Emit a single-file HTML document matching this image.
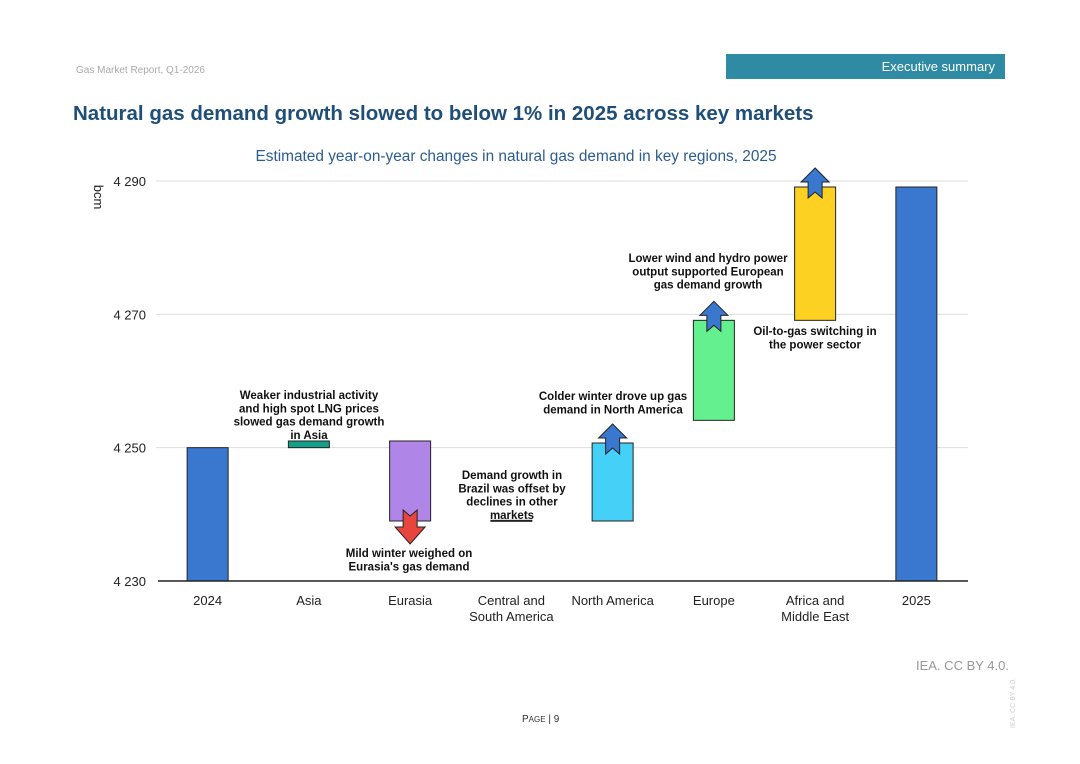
<!DOCTYPE html>
<html><head><meta charset="utf-8">
<style>
body{margin:0;width:1080px;height:764px;background:#fff;font-family:"Liberation Sans",sans-serif;position:relative;overflow:hidden}
.abs{position:absolute}
</style></head>
<body>
<div class="abs" style="left:76px;top:65px;font-size:10px;color:#aaa">Gas Market Report, Q1-2026</div>
<div class="abs" style="left:726px;top:54px;width:279px;height:25px;background:#2e8ba3;color:#fff;font-size:13px;text-align:right;box-sizing:border-box;padding:5px 10px 0 0">Executive summary</div>
<div class="abs" style="left:73px;top:102px;font-size:20.5px;font-weight:bold;color:#1f4e79">Natural gas demand growth slowed to below 1% in 2025 across key markets</div>
<div class="abs" style="left:0;width:1032px;top:148px;text-align:center;font-size:15.4px;color:#2c5d8f">Estimated year-on-year changes in natural gas demand in key regions, 2025</div>
<svg class="abs" style="left:0;top:0" width="1080" height="764" id="chart"></svg>
<div class="abs" style="left:916px;top:658px;font-size:13px;color:#999">IEA. CC BY 4.0.</div>
<div class="abs" style="left:1010px;font-size:7px;color:#ccc;transform:rotate(-90deg);transform-origin:left top;white-space:nowrap;top:728px">IEA. CC BY 4.0.</div>
<div class="abs" style="left:522px;top:714px;font-size:10px;color:#333">P<span style="font-size:8px">AGE</span> | 9</div>
<script>
const categories=[["2024"],["Asia"],["Eurasia"],["Central and","South America"],["North America"],["Europe"],["Africa and","Middle East"],["2025"]];
const lows=[4230,4250,4239,4239,4239,4254.1,4269.1,4230];
const highs=[4250,4251,4251,4239.1,4250.7,4269.1,4289.1,4289.1];
const colors=["#3a78d0","#13a08a","#b085e8","#333","#45d0f8","#65f08f","#fcd122","#3a78d0"];
const arrows=[null,null,"down",null,"up","up","up",null];
const yTicks=[4230,4250,4270,4290];
const yTickLabels=["4 230","4 250","4 270","4 290"];
const svg=document.getElementById('chart');
const NS="http://www.w3.org/2000/svg";
const X0=158,X1=968,Y0=581,Y1=181,VMIN=4230,VMAX=4290;
const y=v=>Y0-(v-VMIN)/(VMAX-VMIN)*(Y0-Y1);
const bw=(X1-X0)/categories.length;
const xc=i=>X0+bw*(i+0.5)-1;
function mk(t,a){const e=document.createElementNS(NS,t);for(const k in a)e.setAttribute(k,a[k]);svg.appendChild(e);return e;}
yTicks.forEach((v,i)=>{
 if(i>0){const g=mk('line',{x1:156,x2:X1,y1:y(v),y2:y(v),stroke:'#ddd','stroke-width':1});
 
 }
 const t=mk('text',{x:146,y:y(v)+5,'text-anchor':'end','font-size':13,fill:'#222'});t.textContent=yTickLabels[i];
 
 
});
const yt=mk('text',{transform:'translate(94,197) rotate(90)','font-size':13,fill:'#222','text-anchor':'middle'});yt.textContent='bcm';


categories.forEach((c,i)=>{
 const lo=lows[i],hi=highs[i];
 const r=mk('rect',{x:xc(i)-20.5,y:y(hi),width:41,height:Math.max(1,y(lo)-y(hi)),fill:colors[i],stroke:'#222','stroke-width':1});
 
 
 c.forEach((l,j)=>{const t=mk('text',{x:xc(i),y:605+j*16,'text-anchor':'middle','font-size':13,fill:'#222'});t.textContent=l;
 
 });
 if(arrows[i]){
  const cx=xc(i);let p;
  if(arrows[i]=="up"){const b=y(hi);p=[[cx-7,b+11],[cx,b+5],[cx+7,b+11],[cx+7,b-5],[cx+14,b-5],[cx,b-19],[cx-14,b-5],[cx-7,b-5]];}
  else{const b=y(lo);p=[[cx-7,b-11],[cx,b-5],[cx+7,b-11],[cx+7,b+6],[cx+15,b+6],[cx,b+23],[cx-15,b+6],[cx-7,b+6]];}
  const a=mk('polygon',{points:p.map(q=>q.join(',')).join(' '),fill:arrows[i]=="up"?'#3a78d0':'#e8453c',stroke:'#222','stroke-width':1});
  
  
 }
});
const ax=mk('line',{x1:X0,x2:X1,y1:Y0,y2:Y0,stroke:'#222','stroke-width':1.5});


const notes=[[309,399,["Weaker industrial activity","and high spot LNG prices","slowed gas demand growth","in Asia"]],
[409,557,["Mild winter weighed on","Eurasia's gas demand"]],
[512,479,["Demand growth in","Brazil was offset by","declines in other","markets"]],
[613,400,["Colder winter drove up gas","demand in North America"]],
[708,262,["Lower wind and hydro power","output supported European","gas demand growth"]],
[815,335,["Oil-to-gas switching in","the power sector"]]];
notes.forEach(n=>{n[2].forEach((l,j)=>{const t=mk('text',{x:n[0],y:n[1]+j*13.3,'text-anchor':'middle','font-size':11.5,'font-weight':'bold',fill:'#111'});t.textContent=l;
 
 });});
</script>
</body></html>
